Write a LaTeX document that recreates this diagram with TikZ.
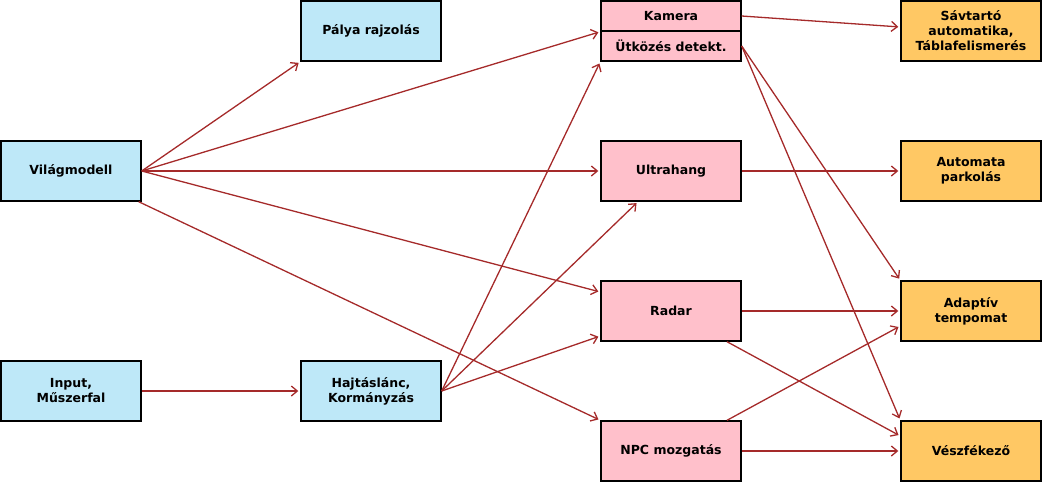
\documentclass[tikz,border=0pt]{standalone}
\usepackage{fontspec}
\setmainfont{DejaVu Sans}
\usetikzlibrary{arrows.meta}
\definecolor{bluebox}{RGB}{190,232,248}
\definecolor{pinkbox}{RGB}{255,192,203}
\definecolor{orangebox}{RGB}{255,200,100}
\definecolor{edgecol}{RGB}{165,42,42}
\tikzset{
  box/.style={draw=black, line width=1.4pt, minimum width=140pt, minimum height=60pt, inner sep=0pt, align=center,
    font=\fontsize{12.5}{15}\selectfont\bfseries},
  bluenode/.style={box, fill=bluebox},
  pinknode/.style={box, fill=pinkbox},
  orangenode/.style={box, fill=orangebox},
  conn/.style={draw=edgecol, line width=1.3pt, shorten >=2pt, -{Straight Barb[length=6pt,width=10pt,line width=1.3pt]}}
}
\begin{document}
\begin{tikzpicture}[x=1pt,y=-1pt]
\useasboundingbox (0,0) rectangle (1042,482);
\node[bluenode] (palya) at (371,31) {Pálya rajzolás};
\node[bluenode] (vilag) at (71,171) {Világmodell};
\node[bluenode] (input) at (71,391) {Input,\\Műszerfal};
\node[bluenode] (hajtas) at (371,391) {Hajtáslánc,\\Kormányzás};
\node[pinknode, minimum height=30pt] (kamera) at (671,16) {Kamera};
\node[pinknode, minimum height=30pt] (utkozes) at (671,46) {Ütközés detekt.};
\node[pinknode] (ultra) at (671,171) {Ultrahang};
\node[pinknode] (radar) at (671,311) {Radar};
\node[pinknode] (npc) at (671,451) {NPC mozgatás};
\node[orangenode] (savtarto) at (971,31) {Sávtartó\\automatika,\\Táblafelismerés};
\node[orangenode] (auto) at (971,171) {Automata\\parkolás};
\node[orangenode] (adaptiv) at (971,311) {Adaptív\\tempomat};
\node[orangenode] (vesz) at (971,451) {Vészfékező};

\draw[conn] (vilag.east) -- (palya.south west);
\draw[conn] (vilag.east) -- (kamera.south west);
\draw[conn] (vilag.east) -- (ultra.west);
\draw[conn] (vilag.east) -- ([yshift=19pt]radar.west);
\draw[conn] ([xshift=-3pt]vilag.south east) -- (npc.north west);
\draw[conn] (input.east) -- (hajtas.west);
\draw[conn] (hajtas.east) -- (utkozes.south west);
\draw[conn] (hajtas.east) -- ([xshift=-33pt]ultra.south);
\draw[conn] (hajtas.east) -- ([yshift=-25pt]radar.west);
\draw[conn] (kamera.east) -- ([yshift=4pt]savtarto.west);
\draw[conn] (ultra.east) -- (auto.west);
\draw[conn] (utkozes.east) -- (adaptiv.north west);
\draw[conn] (utkozes.east) -- (vesz.north west);
\draw[conn] (radar.east) -- (adaptiv.west);
\draw[conn] ([xshift=56pt]radar.south) -- ([yshift=15pt]vesz.west);
\draw[conn] ([xshift=56pt]npc.north) -- ([yshift=-15pt]adaptiv.west);
\draw[conn] (npc.east) -- (vesz.west);
\end{tikzpicture}
\end{document}
